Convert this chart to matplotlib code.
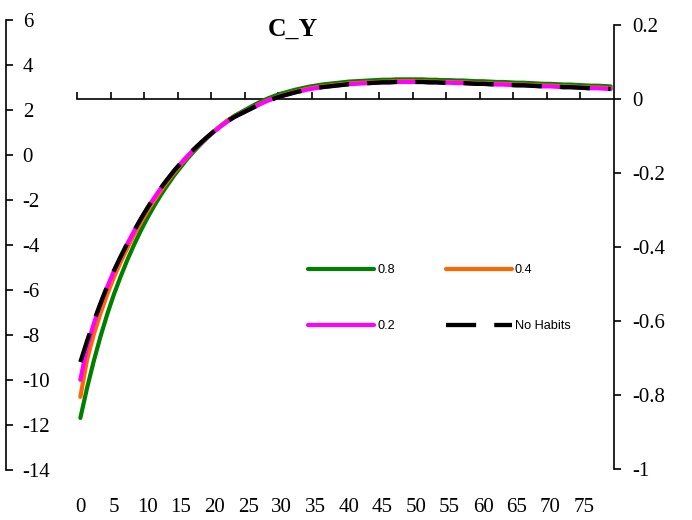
import numpy as np
import matplotlib
matplotlib.use("Agg")
import matplotlib.pyplot as plt

# Impulse response of C_Y under different habit-persistence settings
periods = np.arange(80)

habit_08 = [-0.862, -0.781, -0.708, -0.642, -0.582, -0.528, -0.480, -0.435, -0.394, -0.356,
            -0.321, -0.289, -0.259, -0.232, -0.206, -0.183, -0.160, -0.140, -0.121, -0.103,
            -0.086, -0.071, -0.057, -0.045, -0.035, -0.025, -0.015, -0.006, 0.002, 0.009,
            0.015, 0.020, 0.025, 0.029, 0.033, 0.036, 0.039, 0.041, 0.043, 0.045,
            0.047, 0.048, 0.049, 0.050, 0.051, 0.052, 0.052, 0.053, 0.053, 0.053,
            0.053, 0.053, 0.052, 0.052, 0.051, 0.051, 0.050, 0.050, 0.049, 0.048,
            0.048, 0.047, 0.046, 0.046, 0.045, 0.044, 0.044, 0.043, 0.042, 0.041,
            0.041, 0.040, 0.039, 0.039, 0.038, 0.037, 0.036, 0.036, 0.035, 0.034]

habit_04 = [-0.805, -0.704, -0.636, -0.579, -0.528, -0.482, -0.441, -0.403, -0.367, -0.334,
            -0.303, -0.274, -0.247, -0.222, -0.198, -0.176, -0.155, -0.136, -0.118, -0.101,
            -0.086, -0.071, -0.058, -0.047, -0.038, -0.029, -0.020, -0.011, -0.003, 0.003,
            0.010, 0.015, 0.020, 0.024, 0.028, 0.031, 0.034, 0.036, 0.038, 0.040,
            0.042, 0.043, 0.044, 0.045, 0.046, 0.047, 0.047, 0.048, 0.048, 0.048,
            0.048, 0.048, 0.047, 0.047, 0.046, 0.046, 0.045, 0.045, 0.044, 0.043,
            0.043, 0.042, 0.041, 0.041, 0.040, 0.039, 0.039, 0.038, 0.037, 0.036,
            0.036, 0.035, 0.034, 0.034, 0.033, 0.032, 0.031, 0.031, 0.030, 0.029]

habit_02 = [-0.759, -0.669, -0.607, -0.555, -0.508, -0.465, -0.427, -0.391, -0.357, -0.325,
            -0.295, -0.267, -0.241, -0.217, -0.194, -0.173, -0.153, -0.135, -0.118, -0.102,
            -0.087, -0.073, -0.060, -0.048, -0.039, -0.030, -0.021, -0.012, -0.004, 0.002,
            0.008, 0.013, 0.018, 0.022, 0.026, 0.029, 0.032, 0.034, 0.036, 0.038,
            0.040, 0.041, 0.042, 0.043, 0.044, 0.045, 0.045, 0.046, 0.046, 0.046,
            0.046, 0.046, 0.045, 0.045, 0.044, 0.044, 0.043, 0.043, 0.042, 0.041,
            0.041, 0.040, 0.039, 0.039, 0.038, 0.037, 0.037, 0.036, 0.035, 0.034,
            0.034, 0.033, 0.032, 0.032, 0.031, 0.030, 0.029, 0.029, 0.028, 0.027]

no_habits = [-0.711, -0.654, -0.601, -0.552, -0.506, -0.464, -0.426, -0.390, -0.356, -0.324,
             -0.294, -0.266, -0.240, -0.216, -0.193, -0.172, -0.152, -0.134, -0.117, -0.101,
             -0.086, -0.072, -0.059, -0.048, -0.039, -0.030, -0.021, -0.012, -0.004, 0.002,
             0.008, 0.013, 0.018, 0.022, 0.026, 0.029, 0.032, 0.034, 0.036, 0.038,
             0.040, 0.041, 0.042, 0.043, 0.044, 0.045, 0.045, 0.046, 0.046, 0.046,
             0.046, 0.046, 0.045, 0.045, 0.044, 0.044, 0.043, 0.043, 0.042, 0.041,
             0.041, 0.040, 0.039, 0.039, 0.038, 0.037, 0.037, 0.036, 0.035, 0.034,
             0.034, 0.033, 0.032, 0.032, 0.031, 0.030, 0.029, 0.029, 0.028, 0.027]

series_labels = ["0.8", "0.4", "0.2", "No Habits"]

right_ticks = [0.2, 0.0, -0.2, -0.4, -0.6, -0.8, -1.0]
right_labels = ["0.2", "0", "-0.2", "-0.4", "-0.6", "-0.8", "-1"]
left_ticks = [6, 4, 2, 0, -2, -4, -6, -8, -10, -12, -14]
left_labels = ["6", "4", "2", "0", "-2", "-4", "-6", "-8", "-10", "-12", "-14"]
x_label_ticks = list(range(0, 80, 5))
x_labels = [str(v) for v in x_label_ticks]

SERIF = "Liberation Serif"
SANS = "Liberation Sans"
TICK_SIZE = 15

W, H = 692, 520
fig = plt.figure(figsize=(W / 100, H / 100), dpi=100)
fig.patch.set_facecolor("white")

# main plotting area (values on the right-hand scale)
ax = fig.add_axes([77 / W, 1 - 469 / H, (614 - 77) / W, (469 - 25) / H])
ax.patch.set_visible(False)
ax.set_xlim(-0.5, 79.5)
ax.set_ylim(-1.0, 0.2)

lw = 3.0
ax.plot(periods, habit_08, color="#008000", lw=lw, solid_capstyle="round", label=series_labels[0], zorder=3)
ax.plot(periods, habit_04, color="#FF6600", lw=lw, solid_capstyle="round", label=series_labels[1], zorder=4)
ax.plot(periods, habit_02, color="#FF00FF", lw=lw, solid_capstyle="round", label=series_labels[2], zorder=5)
ax.plot(periods, no_habits, color="black", lw=3.1, linestyle=(0, (7, 4.2)), label=series_labels[3], zorder=6)

for side in ("left", "top"):
    ax.spines[side].set_visible(False)
ax.spines["right"].set_linewidth(1.2)
ax.spines["bottom"].set_position(("data", 0))
ax.spines["bottom"].set_linewidth(1.2)

ax.yaxis.tick_right()
ax.set_yticks(right_ticks)
ax.set_yticklabels(right_labels, fontfamily=SERIF, fontsize=TICK_SIZE)
ax.tick_params(axis="y", direction="out", length=5, width=1.2, pad=8)

ax.set_xticks(np.arange(-0.5, 75, 5))
ax.tick_params(axis="x", direction="in", length=5, width=1.2, labelbottom=False)

# category labels along the bottom edge
sec = ax.secondary_xaxis("bottom")
for s in sec.spines.values():
    s.set_visible(False)
sec.set_xticks(x_label_ticks)
sec.set_xticklabels(x_labels, fontfamily=SERIF, fontsize=TICK_SIZE)
sec.tick_params(axis="x", length=0, pad=21)

# left-hand scale
axl = fig.add_axes([0, 1 - 470 / H, 6 / W, 450 / H])
axl.patch.set_visible(False)
for side in ("left", "top", "bottom"):
    axl.spines[side].set_visible(False)
axl.spines["right"].set_linewidth(1.2)
axl.set_ylim(-14, 6)
axl.set_xticks([])
axl.yaxis.tick_right()
axl.set_yticks(left_ticks)
axl.set_yticklabels(left_labels, fontfamily=SERIF, fontsize=TICK_SIZE)
axl.tick_params(axis="y", direction="out", length=5, width=1.2, pad=7)

fig.text(293 / W, 1 - 36 / H, "C_Y", ha="center", va="baseline",
         fontfamily=SERIF, fontsize=18.5, fontweight="bold")

h, l = ax.get_legend_handles_labels()
order = [0, 2, 1, 3]
leg = ax.legend([h[i] for i in order], [l[i] for i in order], ncol=2,
                loc="upper left", bbox_to_anchor=(308 / W, 1 - 264 / H),
                bbox_transform=fig.transFigure, frameon=False,
                prop={"family": SANS, "size": 9.2},
                handlelength=5.2, handletextpad=0.2, columnspacing=4.0,
                labelspacing=3.46, borderpad=0, borderaxespad=0)

fig.savefig("out.png", dpi=100, facecolor="white")
